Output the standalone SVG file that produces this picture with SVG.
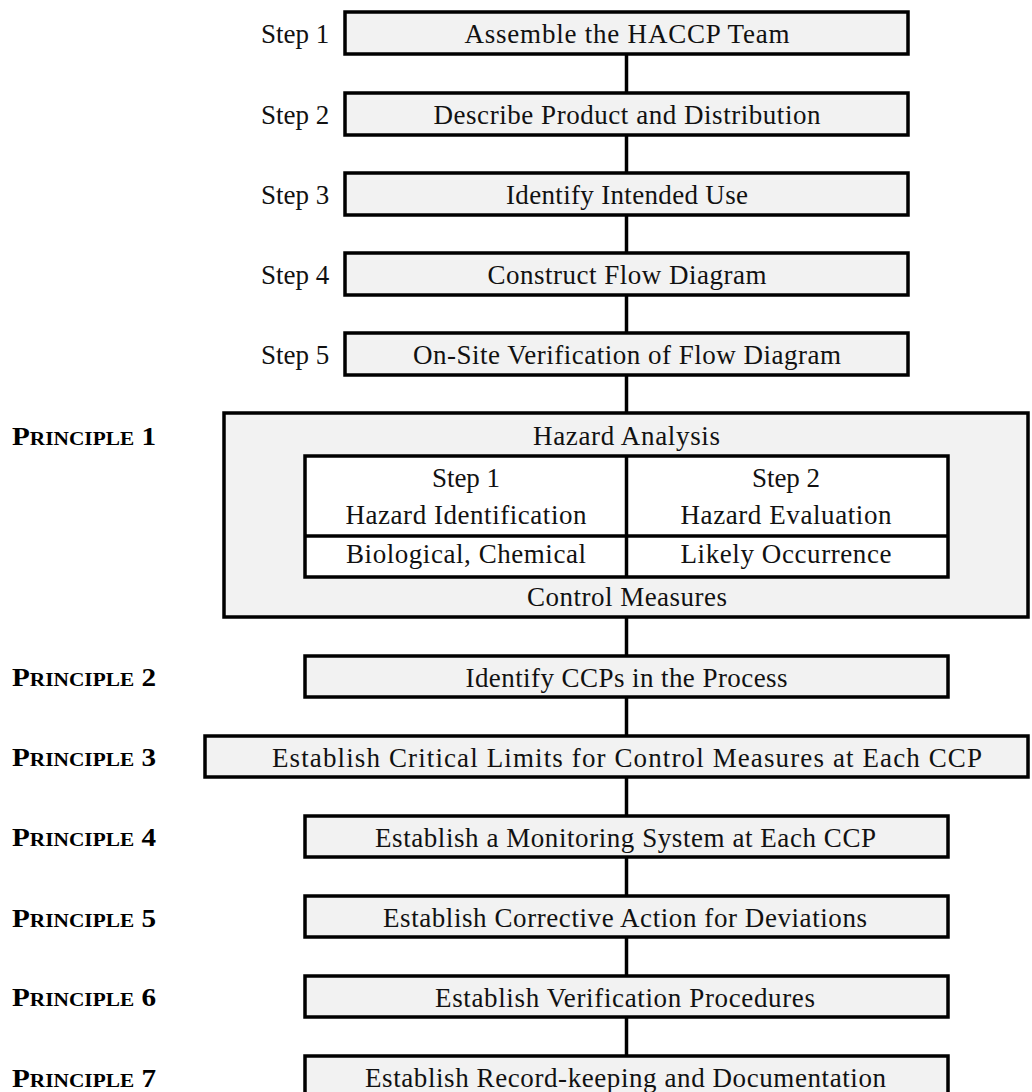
<svg xmlns="http://www.w3.org/2000/svg" width="1032" height="1092" viewBox="0 0 1032 1092">
<style>
.box{fill:#f2f2f2;stroke:#000;stroke-width:3.5}
.cell{fill:#ffffff;stroke:#000;stroke-width:3.5}
.t{font-family:"Liberation Serif","Times New Roman",serif;font-size:27px;fill:#111;text-anchor:middle}
.lab{font-family:"Liberation Serif","Times New Roman",serif;font-size:27px;fill:#111}
.pr{font-family:"Liberation Serif","Times New Roman",serif;font-weight:bold;font-size:26px;fill:#000}
.sc{font-size:19px}
.con{stroke:#000;stroke-width:3.5;fill:none}
</style>
<g id="connectors">
<line class="con" x1="626.5" y1="54" x2="626.5" y2="93"/>
<line class="con" x1="626.5" y1="135" x2="626.5" y2="173"/>
<line class="con" x1="626.5" y1="215" x2="626.5" y2="253"/>
<line class="con" x1="626.5" y1="295" x2="626.5" y2="333"/>
<line class="con" x1="626.5" y1="375" x2="626.5" y2="413"/>
<line class="con" x1="626.5" y1="617" x2="626.5" y2="656"/>
<line class="con" x1="626.5" y1="697" x2="626.5" y2="736"/>
<line class="con" x1="626.5" y1="777" x2="626.5" y2="816"/>
<line class="con" x1="626.5" y1="857" x2="626.5" y2="896"/>
<line class="con" x1="626.5" y1="937" x2="626.5" y2="976"/>
<line class="con" x1="626.5" y1="1017" x2="626.5" y2="1056"/>
</g>
<g id="step1">
<text class="lab" x="261" y="43">Step 1</text>
<rect class="box" x="345" y="12" width="563" height="42"/>
<text class="t" x="627" y="43" textLength="325" lengthAdjust="spacing">Assemble the HACCP Team</text>
</g>
<g id="step2">
<text class="lab" x="261" y="124">Step 2</text>
<rect class="box" x="345" y="93" width="563" height="42"/>
<text class="t" x="627" y="124" textLength="387" lengthAdjust="spacing">Describe Product and Distribution</text>
</g>
<g id="step3">
<text class="lab" x="261" y="204">Step 3</text>
<rect class="box" x="345" y="173" width="563" height="42"/>
<text class="t" x="627" y="204" textLength="242" lengthAdjust="spacing">Identify Intended Use</text>
</g>
<g id="step4">
<text class="lab" x="261" y="284">Step 4</text>
<rect class="box" x="345" y="253" width="563" height="42"/>
<text class="t" x="627" y="284" textLength="279" lengthAdjust="spacing">Construct Flow Diagram</text>
</g>
<g id="step5">
<text class="lab" x="261" y="364">Step 5</text>
<rect class="box" x="345" y="333" width="563" height="42"/>
<text class="t" x="627" y="364" textLength="428" lengthAdjust="spacing">On-Site Verification of Flow Diagram</text>
</g>
<g id="principle1">
<text class="pr" x="12" y="445" textLength="144" lengthAdjust="spacingAndGlyphs">P<tspan class="sc">RINCIPLE</tspan> 1</text>
<rect class="box" x="224" y="413" width="804" height="204"/>
<text class="t" x="626.5" y="445" textLength="187" lengthAdjust="spacing">Hazard Analysis</text>
<rect class="cell" x="305" y="456" width="643" height="121"/>
<line class="con" x1="305" y1="536" x2="948" y2="536"/>
<line class="con" x1="626.5" y1="456" x2="626.5" y2="577"/>
<text class="t" x="466" y="487" textLength="68" lengthAdjust="spacing">Step 1</text>
<text class="t" x="466" y="524" textLength="241" lengthAdjust="spacing">Hazard Identification</text>
<text class="t" x="466" y="563" textLength="240" lengthAdjust="spacing">Biological, Chemical</text>
<text class="t" x="786" y="487" textLength="68" lengthAdjust="spacing">Step 2</text>
<text class="t" x="786" y="524" textLength="211" lengthAdjust="spacing">Hazard Evaluation</text>
<text class="t" x="786" y="563" textLength="211" lengthAdjust="spacing">Likely Occurrence</text>
<text class="t" x="627" y="606" textLength="200" lengthAdjust="spacing">Control Measures</text>
</g>
<g id="principle2">
<text class="pr" x="12" y="686" textLength="144" lengthAdjust="spacingAndGlyphs">P<tspan class="sc">RINCIPLE</tspan> 2</text>
<rect class="box" x="305" y="656" width="643" height="41"/>
<text class="t" x="626.5" y="687" textLength="322" lengthAdjust="spacing">Identify CCPs in the Process</text>
</g>
<g id="principle3">
<text class="pr" x="12" y="766" textLength="144" lengthAdjust="spacingAndGlyphs">P<tspan class="sc">RINCIPLE</tspan> 3</text>
<rect class="box" x="205" y="736" width="823" height="41"/>
<text class="t" x="627" y="767" textLength="710" lengthAdjust="spacing">Establish Critical Limits for Control Measures at Each CCP</text>
</g>
<g id="principle4">
<text class="pr" x="12" y="846" textLength="144" lengthAdjust="spacingAndGlyphs">P<tspan class="sc">RINCIPLE</tspan> 4</text>
<rect class="box" x="305" y="816" width="643" height="41"/>
<text class="t" x="625.5" y="847" textLength="501" lengthAdjust="spacing">Establish a Monitoring System at Each CCP</text>
</g>
<g id="principle5">
<text class="pr" x="12" y="927" textLength="144" lengthAdjust="spacingAndGlyphs">P<tspan class="sc">RINCIPLE</tspan> 5</text>
<rect class="box" x="305" y="896" width="643" height="41"/>
<text class="t" x="625" y="927" textLength="484" lengthAdjust="spacing">Establish Corrective Action for Deviations</text>
</g>
<g id="principle6">
<text class="pr" x="12" y="1006" textLength="144" lengthAdjust="spacingAndGlyphs">P<tspan class="sc">RINCIPLE</tspan> 6</text>
<rect class="box" x="305" y="976" width="643" height="41"/>
<text class="t" x="625" y="1007" textLength="380" lengthAdjust="spacing">Establish Verification Procedures</text>
</g>
<g id="principle7">
<text class="pr" x="12" y="1087" textLength="144" lengthAdjust="spacingAndGlyphs">P<tspan class="sc">RINCIPLE</tspan> 7</text>
<rect class="box" x="305" y="1056" width="643" height="41"/>
<text class="t" x="625.5" y="1087" textLength="521" lengthAdjust="spacing">Establish Record-keeping and Documentation</text>
</g>
</svg>
